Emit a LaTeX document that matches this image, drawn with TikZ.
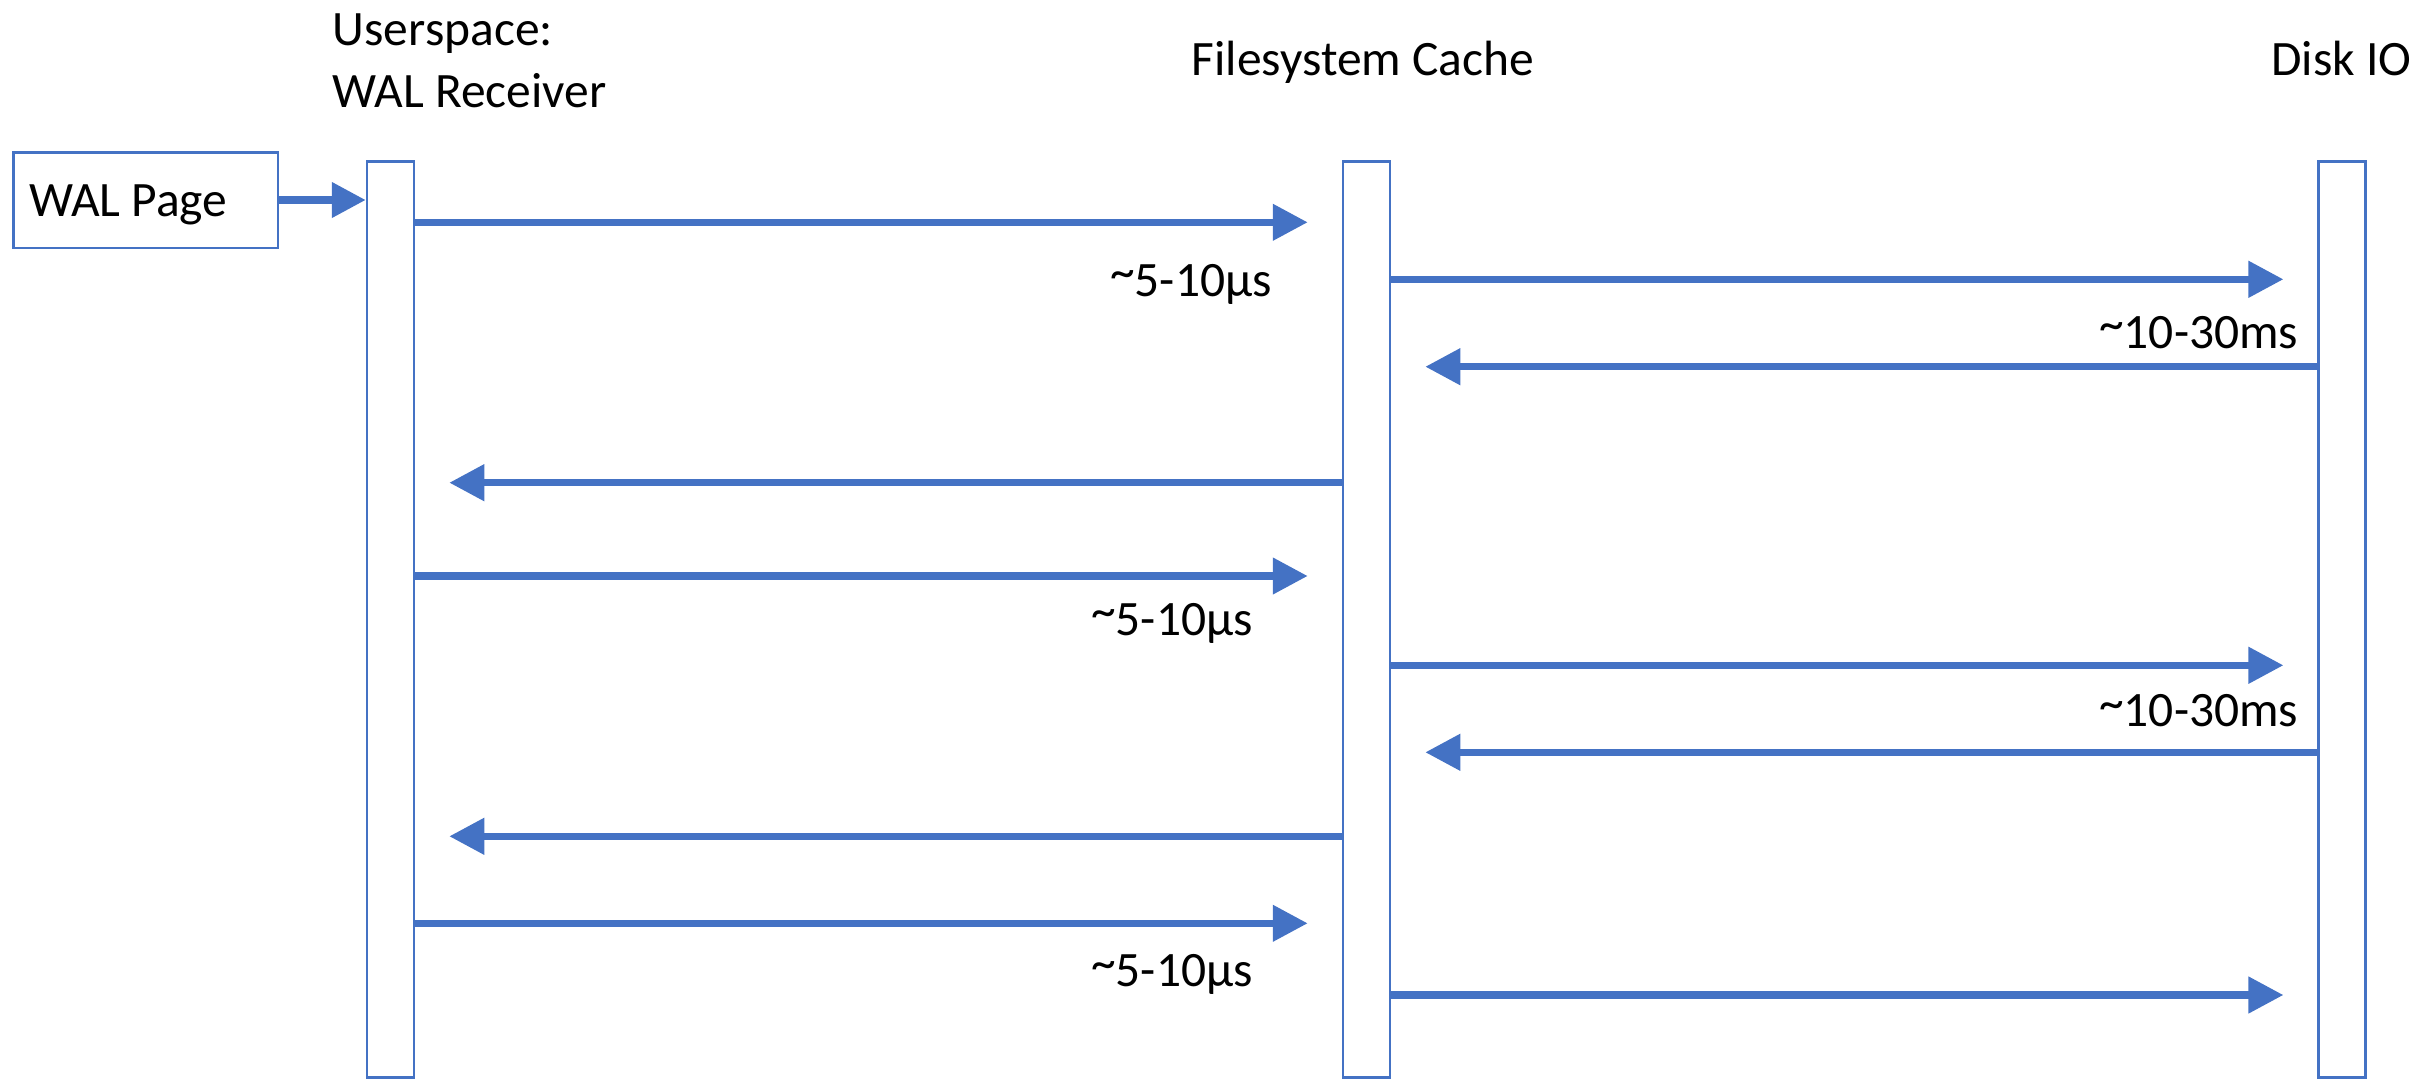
\documentclass[tikz,border=0pt]{standalone}
\usepackage{fontspec}
\setmainfont{Carlito}
\usetikzlibrary{arrows.meta}
\definecolor{officeblue}{HTML}{4472C4}
% raised tilde used in front of the latency figures
\newcommand{\approxmark}{\raisebox{0.15em}{\textasciitilde}}
\begin{document}
\begin{tikzpicture}[x=1pt,y=-1pt,
  lifeline/.style={draw=officeblue,line width=2.5pt,fill=white,
    minimum width=47pt,minimum height=916pt,inner sep=0pt},
  pagebox/.style={draw=officeblue,line width=2.5pt,fill=white,
    minimum width=264.5pt,minimum height=95.5pt,inner sep=0pt},
  msg/.style={draw=officeblue,line width=7.5pt,
    -{Triangle[length=35pt,width=35pt]},shorten >=34pt},
  feed/.style={draw=officeblue,line width=7.5pt,
    -{Triangle[length=34pt,width=34pt]}},
  txt/.style={font=\fontsize{49.5}{60}\selectfont,inner sep=0pt,
    anchor=base west,text=black}]
\useasboundingbox (0,0) rectangle (2417,1079);

% participant headings
\node[txt] (hrecvA) at (332.6,45) {Userspace:};
\node[txt] (hrecvB) at (332.6,107) {WAL Receiver};
\node[txt] (hcache) at (1191.7,75) {Filesystem Cache};
\node[txt] (hdisk)  at (2271,75) {Disk IO};

% lifelines
\node[lifeline] (recv)  at (390.5,619.3) {};
\node[lifeline] (cache) at (1366.5,619.3) {};
\node[lifeline] (disk)  at (2342.2,619.3) {};

% incoming page
\node[pagebox] (walpage) at (145.5,200) {};
\node[txt] (walpagetext) at (29,216.7) {WAL Page};
\draw[feed] (walpage.east) -- (recv.west |- walpage.east);

% message rows
\coordinate (m1) at (0,222.3);
\coordinate (m2) at (0,279.3);
\coordinate (m3) at (0,366.7);
\coordinate (m4) at (0,482.7);
\coordinate (m5) at (0,576);
\coordinate (m6) at (0,665.3);
\coordinate (m7) at (0,752.3);
\coordinate (m8) at (0,836.3);
\coordinate (m9) at (0,923.3);
\coordinate (m10) at (0,995);

\draw[msg] (recv.east |- m1) -- (cache.west |- m1);
\draw[msg] (cache.east |- m2) -- (disk.west |- m2);
\draw[msg] (disk.west |- m3) -- (cache.east |- m3);
\draw[msg] (cache.west |- m4) -- (recv.east |- m4);
\draw[msg] (recv.east |- m5) -- (cache.west |- m5);
\draw[msg] (cache.east |- m6) -- (disk.west |- m6);
\draw[msg] (disk.west |- m7) -- (cache.east |- m7);
\draw[msg] (cache.west |- m8) -- (recv.east |- m8);
\draw[msg] (recv.east |- m9) -- (cache.west |- m9);
\draw[msg] (cache.east |- m10) -- (disk.west |- m10);

% latency labels
\node[txt] (lat1) at (1110,296) {\approxmark 5-10µs};
\node[txt] (lat2) at (2099,348) {\approxmark 10-30ms};
\node[txt] (lat3) at (1091,635) {\approxmark 5-10µs};
\node[txt] (lat4) at (2099,726.7) {\approxmark 10-30ms};
\node[txt] (lat5) at (1091,986.7) {\approxmark 5-10µs};
\end{tikzpicture}
\end{document}
